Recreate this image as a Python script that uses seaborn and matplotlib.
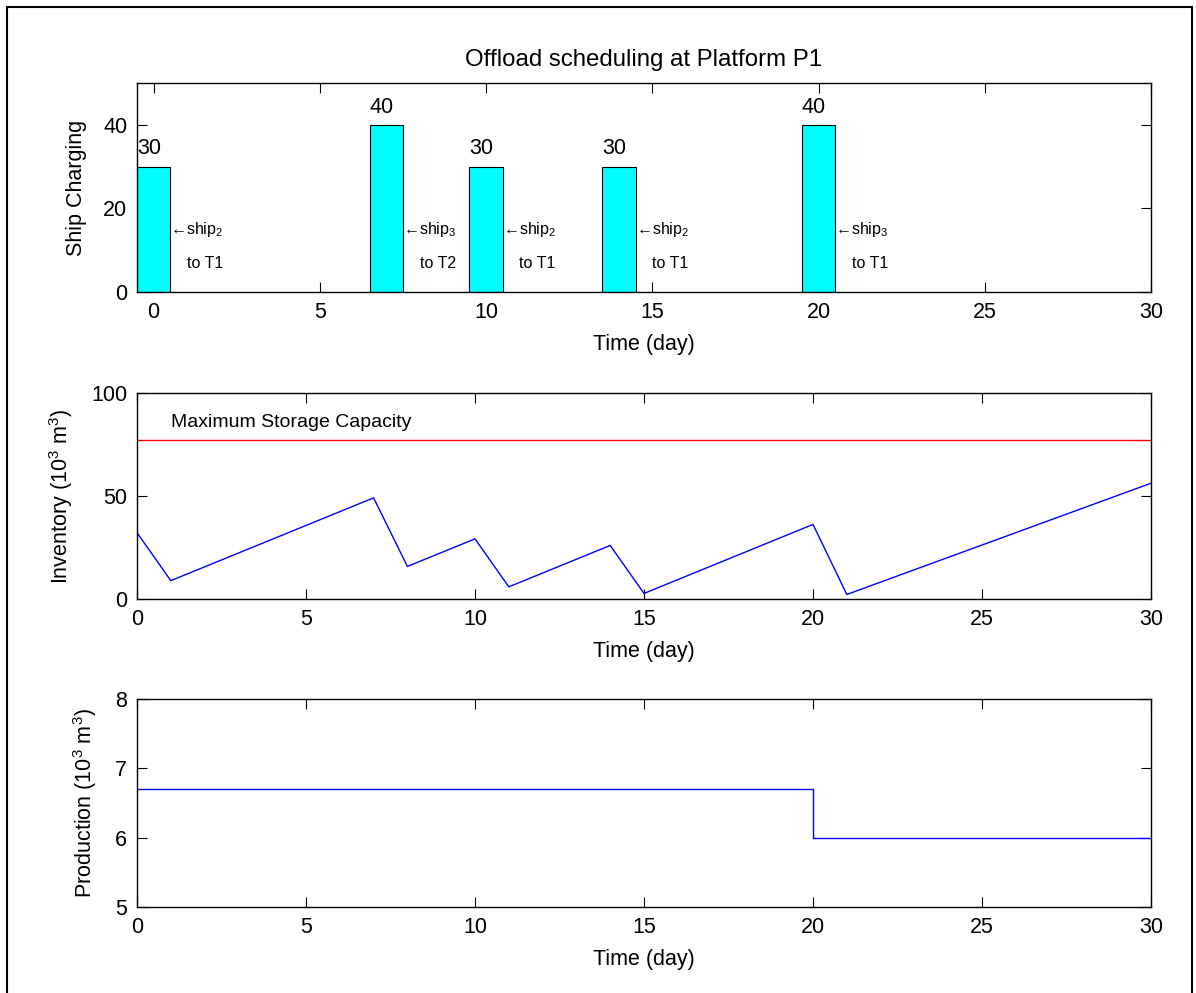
import numpy as np
import pandas as pd
import matplotlib
matplotlib.use("Agg")
import matplotlib.pyplot as plt
from matplotlib.patches import Rectangle
import seaborn as sns

# Offload events at platform P1
offload_days = [0, 7, 10, 14, 20]
offload_volumes = [30, 40, 30, 30, 40]
offload_ships = ["2", "3", "2", "2", "3"]
offload_terminals = ["T1", "T2", "T1", "T1", "T1"]

# Daily inventory and production (10^3 m^3)
days = list(range(31))
inventory = [32.2, 8.9, 15.6, 22.3, 29.0, 35.7, 42.4, 49.1, 15.8, 22.5,
             29.2, 5.9, 12.6, 19.3, 26.0, 2.7, 9.4, 16.1, 22.8, 29.5,
             36.2, 2.2, 8.2, 14.2, 20.2, 26.2, 32.2, 38.2, 44.2, 50.2,
             56.2]
production = [6.7, 6.7, 6.7, 6.7, 6.7, 6.7, 6.7, 6.7, 6.7, 6.7,
              6.7, 6.7, 6.7, 6.7, 6.7, 6.7, 6.7, 6.7, 6.7, 6.7,
              6.0, 6.0, 6.0, 6.0, 6.0, 6.0, 6.0, 6.0, 6.0, 6.0,
              6.0]
storage_capacity = 77

time_ticks = [0, 5, 10, 15, 20, 25, 30]

sns.set_theme(style="white")
plt.rcParams["font.family"] = ["Liberation Sans", "DejaVu Sans"]
plt.rcParams["mathtext.fontset"] = "custom"
plt.rcParams["mathtext.rm"] = "Liberation Sans"
plt.rcParams["mathtext.it"] = "Liberation Sans:italic"
plt.rcParams["mathtext.bf"] = "Liberation Sans:bold"
plt.rcParams["axes.edgecolor"] = "black"
plt.rcParams["axes.linewidth"] = 1.0
plt.rcParams["text.color"] = "black"
plt.rcParams["axes.labelcolor"] = "black"
plt.rcParams["axes.titlecolor"] = "black"
plt.rcParams["xtick.color"] = "black"
plt.rcParams["ytick.color"] = "black"

FS = 15.5
W, H = 1196, 993
fig = plt.figure(figsize=(W / 100, H / 100), dpi=100)
fig.patch.set_facecolor("white")


def px_axes(left, top, right, bottom):
    return fig.add_axes([left / W, 1 - bottom / H, (right - left) / W, (bottom - top) / H])


def style(ax, label_x):
    ax.tick_params(direction="in", length=7, width=0.8, top=True, right=True,
                   bottom=True, left=True, labelsize=FS, pad=7, colors="black")
    for sp in ax.spines.values():
        sp.set_visible(True)
        sp.set_color("black")
        sp.set_linewidth(1.0)
    ax.set_xticks(time_ticks)
    ax.set_xlabel("Time (day)", fontsize=FS, labelpad=8)
    ax.yaxis.set_label_coords(label_x, 0.5)


ax1 = px_axes(137, 83, 1151, 292)
ax2 = px_axes(137, 393, 1151, 599)
ax3 = px_axes(137, 699, 1151, 907)

# Ship charging bars
df_off = pd.DataFrame({"day": offload_days, "volume": offload_volumes})
bar_width = 1 / np.min(np.diff(offload_days))
sns.barplot(data=df_off, x="day", y="volume", native_scale=True, width=bar_width,
            color="#00FFFF", saturation=1, edgecolor="black", linewidth=0.8,
            errorbar=None, ax=ax1)
for d, v, s, t in zip(offload_days, offload_volumes, offload_ships, offload_terminals):
    ax1.text(d - 0.5, v + 2.9, f"{v}", ha="left", va="baseline", fontsize=FS)
    ax1.text(d + 0.5, 13.9, f"\u2190ship$_{s}$", ha="left", va="baseline", fontsize=11.5)
    ax1.text(d + 1.0, 5.8, f"to {t}", ha="left", va="baseline", fontsize=11.5)
ax1.set_xlim(-0.5, 30)
ax1.set_ylim(0, 50)
ax1.set_yticks([0, 20, 40])
ax1.set_ylabel("Ship Charging", fontsize=FS)
ax1.set_title("Offload scheduling at Platform P1", fontsize=17.3, pad=12)
style(ax1, -0.049)

# Inventory
sns.lineplot(x=days, y=inventory, color="#0000FF", linewidth=1.0, estimator=None, ax=ax2)
ax2.axhline(storage_capacity, color="#FF0000", linewidth=1.0)
ax2.text(1, 83.6, "Maximum Storage Capacity", fontsize=14, ha="left", va="baseline")
ax2.set_xlim(0, 30)
ax2.set_ylim(0, 100)
ax2.set_yticks([0, 50, 100])
ax2.set_ylabel("Inventory (10$^3$ m$^3$)", fontsize=FS)
style(ax2, -0.061)

# Production rate
sns.lineplot(x=days, y=production, color="#0000FF", linewidth=1.0, estimator=None,
             drawstyle="steps-post", ax=ax3)
ax3.set_xlim(0, 30)
ax3.set_ylim(5, 8)
ax3.set_yticks([5, 6, 7, 8])
ax3.set_ylabel("Production (10$^3$ m$^3$)", fontsize=FS)
style(ax3, -0.037)

# Frame around the figure
fig.add_artist(Rectangle((7 / W, -0.02), (1192 - 7) / W, 1 - 7 / H + 0.02,
                         transform=fig.transFigure, fill=False,
                         edgecolor="black", linewidth=1.5))

fig.savefig("out.png", dpi=100, facecolor="white")
